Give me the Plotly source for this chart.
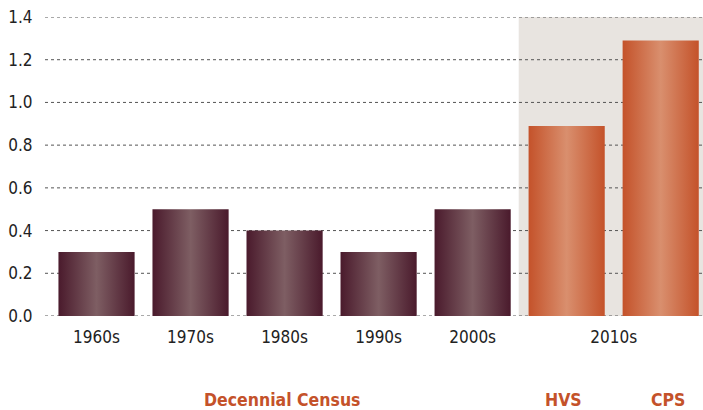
import plotly.graph_objects as go

categories = ["1960s", "1970s", "1980s", "1990s", "2000s", "HVS", "CPS"]
values = [0.3, 0.5, 0.4, 0.3, 0.5, 0.89, 1.29]
sources = ["census", "census", "census", "census", "census", "survey", "survey"]
tick_labels = ["1960s", "1970s", "1980s", "1990s", "2000s", "2010s"]
tick_positions = [0, 1, 2, 3, 4, 5.5]
y_ticks = [0.0, 0.2, 0.4, 0.6, 0.8, 1.0, 1.2, 1.4]
group_labels = ["Decennial Census", "HVS", "CPS"]
group_positions = [1.97, 4.97, 6.08]

FONT = "Liberation Sans Narrow, DejaVu Sans Condensed, Arial Narrow, sans-serif"
dark_scale = [[0, "#4a1a2c"], [0.5, "#7e5e63"], [1, "#4a1a2c"]]
orange_scale = [[0, "#c4522a"], [0.5, "#d98f6e"], [1, "#c4522a"]]
half = 0.405
X_RANGE = [-0.548, 6.45]

fig = go.Figure()
for i, (c, v, s) in enumerate(zip(categories, values, sources)):
    fig.add_trace(go.Scatter(
        x=[i - half, i + half, i + half, i - half, i - half],
        y=[0, 0, v, v, 0],
        mode="lines", line=dict(width=0),
        fill="toself",
        fillgradient=dict(type="horizontal",
                          colorscale=dark_scale if s == "census" else orange_scale),
        hoverinfo="text", text=f"{c}: {v}", showlegend=False,
    ))

fig.add_shape(type="rect", xref="x", yref="y", x0=4.49, x1=X_RANGE[1], y0=0, y1=1.4,
              fillcolor="#e8e4e0", line=dict(width=0), layer="below")
for yt in y_ticks:
    fig.add_shape(type="line", xref="x", yref="y", x0=X_RANGE[0], x1=X_RANGE[1],
                  y0=yt, y1=yt, line=dict(color="#555", width=1, dash="dot"),
                  layer="below")

for lab, pos in zip(group_labels, group_positions):
    fig.add_annotation(x=pos, xref="x", y=-0.281, yref="paper", text=lab,
                       showarrow=False, yanchor="middle",
                       font=dict(family=FONT, size=17.5, color="#c4522a", weight="bold"))

fig.update_layout(
    width=703, height=410,
    margin=dict(l=45, r=0, t=17, b=94),
    paper_bgcolor="white", plot_bgcolor="white",
    font=dict(family=FONT, size=17, color="#222"),
    xaxis=dict(range=X_RANGE, tickvals=tick_positions, ticktext=tick_labels,
               showgrid=False, zeroline=False, showline=False, automargin=False,
               ticks="outside", ticklen=6, tickcolor="rgba(0,0,0,0)"),
    yaxis=dict(range=[0, 1.4], tickvals=y_ticks, tickformat=".1f",
               showgrid=False, zeroline=False, showline=False, automargin=False,
               ticklabeloverflow="allow",
               ticks="outside", ticklen=8, tickcolor="rgba(0,0,0,0)"),
)
fig.write_html("out.html",
               config={"displayModeBar": False},
               post_script="document.body.style.margin='0';"
                           "document.body.style.overflow='hidden';")
